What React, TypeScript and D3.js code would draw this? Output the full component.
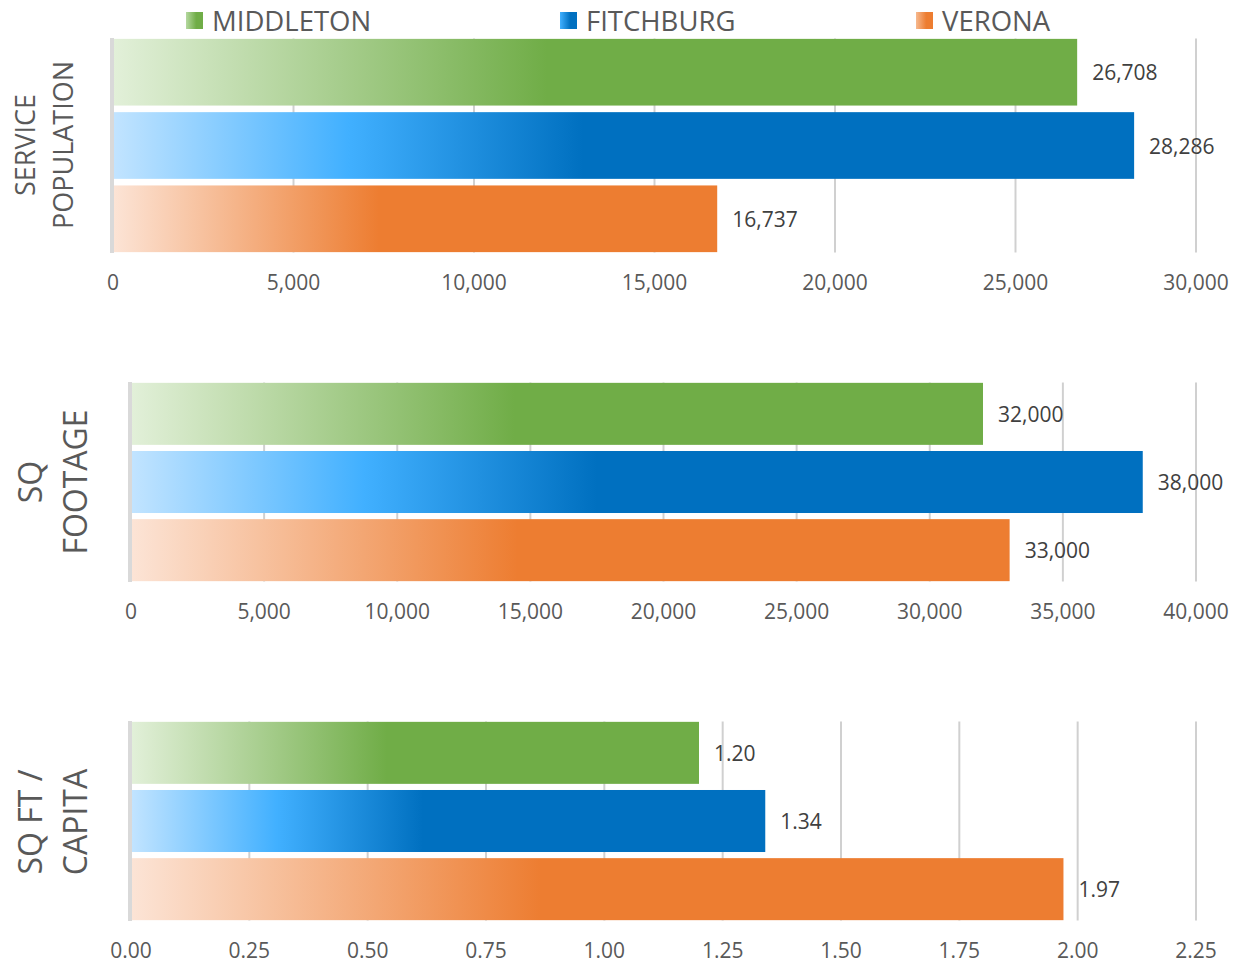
import React from "react";
import * as d3 from "d3";

const cities = ["MIDDLETON", "FITCHBURG", "VERONA"];
const servicePopulation = [26708, 28286, 16737];
const sqFootage = [32000, 38000, 33000];
const sqFtPerCapita = [1.2, 1.34, 1.97];
const popTicks = [0, 5000, 10000, 15000, 20000, 25000, 30000];
const sqTicks = [0, 5000, 10000, 15000, 20000, 25000, 30000, 35000, 40000];
const capTicks = [0, 0.25, 0.5, 0.75, 1.0, 1.25, 1.5, 1.75, 2.0, 2.25];

const gradStops: [number, string][][] = [
  [[0, "#e2f0d9"], [0.45, "#70ad47"], [1, "#70ad47"]],
  [[0, "#c2e4ff"], [0.23, "#41b0ff"], [0.46, "#0070c0"], [1, "#0070c0"]],
  [[0, "#fce4d6"], [0.44, "#ed7d31"], [1, "#ed7d31"]],
];
const legendStops: [number, string][][] = [
  [[0, "#b5d8a0"], [0.6, "#70ad47"], [1, "#70ad47"]],
  [[0, "#41b0ff"], [0.6, "#0070c0"], [1, "#0070c0"]],
  [[0, "#f6b98f"], [0.6, "#ed7d31"], [1, "#ed7d31"]],
];

const fmtInt = d3.format(",");
const fmt2 = d3.format(".2f");

type Panel = {
  values: number[];
  ticks: number[];
  fmt: (n: number) => string;
  x0: number;
  top: number;
  bottom: number;
  tickY: number;
  lines: string[];
  lineX: number[];
  labelY: number;
  labelSize: number;
};

const panels: Panel[] = [
  {
    values: servicePopulation, ticks: popTicks, fmt: fmtInt,
    x0: 113, top: 38.5, bottom: 252.5, tickY: 290,
    lines: ["SERVICE", "POPULATION"], lineX: [35, 73], labelY: 145, labelSize: 27,
  },
  {
    values: sqFootage, ticks: sqTicks, fmt: fmtInt,
    x0: 131, top: 382.5, bottom: 581.5, tickY: 619,
    lines: ["SQ", "FOOTAGE"], lineX: [42, 87], labelY: 482, labelSize: 32,
  },
  {
    values: sqFtPerCapita, ticks: capTicks, fmt: fmt2,
    x0: 131, top: 721.5, bottom: 920.5, tickY: 958,
    lines: ["SQ FT /", "CAPITA"], lineX: [42, 87], labelY: 822, labelSize: 32,
  },
];

const X1 = 1196;
const font = "'Open Sans', 'DejaVu Sans', sans-serif";

export default function App() {
  return (
    <svg width={1235} height={965} style={{ position: "absolute", left: 0, top: 0, background: "#fff" }}>
      <defs>
        {gradStops.map((stops, i) => (
          <linearGradient key={i} id={`g${i}`} x1="0" x2="1" y1="0" y2="0">
            {stops.map(([o, c], j) => <stop key={j} offset={o} stopColor={c} />)}
          </linearGradient>
        ))}
        {legendStops.map((stops, i) => (
          <linearGradient key={i} id={`lg${i}`} x1="0" x2="1" y1="0" y2="0">
            {stops.map(([o, c], j) => <stop key={j} offset={o} stopColor={c} />)}
          </linearGradient>
        ))}
      </defs>

      {/* legend */}
      {cities.map((c, i) => {
        const lx = [186, 560, 916][i];
        return (
          <g key={c}>
            <rect x={lx} y={12} width={17} height={17} fill={`url(#lg${i})`} />
            <text x={lx + 26} y={30.5} fontFamily={font} fontSize={27.5} fill="#595959">{c}</text>
          </g>
        );
      })}

      {panels.map((p, pi) => {
        const x = d3.scaleLinear().domain([0, p.ticks[p.ticks.length - 1]]).range([p.x0, X1]);
        const y = d3.scaleBand<string>().domain(cities).range([p.top, p.bottom]).paddingInner(0.09).paddingOuter(0.005);
        return (
          <g key={pi}>
            {p.ticks.slice(1).map((t) => (
              <line key={t} x1={x(t)} x2={x(t)} y1={p.top} y2={p.bottom} stroke="#d0d0d0" strokeWidth={2} />
            ))}
            {p.values.map((v, i) => (
              <g key={i}>
                <rect x={x(0)} y={y(cities[i])} width={x(v) - x(0)} height={y.bandwidth()} fill={`url(#g${i})`} />
                <text x={x(v) + 15} y={(y(cities[i]) as number) + y.bandwidth() / 2} dominantBaseline="central"
                  fontFamily={font} fontSize={21} fill="#404040">{p.fmt(v)}</text>
              </g>
            ))}
            <line x1={p.x0 - 1} x2={p.x0 - 1} y1={p.top - 0.5} y2={p.bottom + 0.5} stroke="#d9d9d9" strokeWidth={4} />
            {p.ticks.map((t) => (
              <text key={t} x={x(t)} y={p.tickY} textAnchor="middle" fontFamily={font} fontSize={21} fill="#595959">
                {p.fmt(t)}
              </text>
            ))}
            {p.lines.map((l, li) => (
              <text key={li} transform={`translate(${p.lineX[li]},${p.labelY}) rotate(-90)`} textAnchor="middle"
                fontFamily={font} fontSize={p.labelSize} fill="#595959">{l}</text>
            ))}
          </g>
        );
      })}
    </svg>
  );
}
